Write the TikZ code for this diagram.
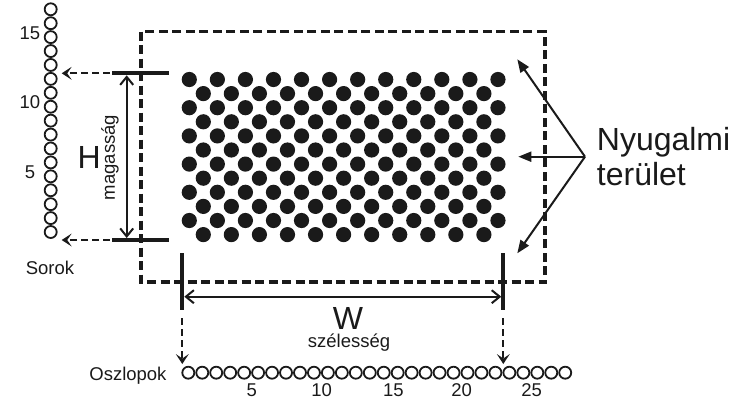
\documentclass[tikz,border=0pt]{standalone}
\usepackage{fontspec}
\setmainfont{Liberation Sans}
\usetikzlibrary{arrows.meta}
\definecolor{ink}{HTML}{1A1A1A}
\begin{document}
\begin{tikzpicture}[x=1pt,y=-1pt,
  ring/.style={circle,draw=ink,line width=1.8pt,minimum size=12pt,inner sep=0pt},
  dot/.style={circle,fill=ink,minimum size=15.2pt,inner sep=0pt},
  tickline/.style={draw=ink,line width=4pt},
  boxline/.style={draw=ink,line width=3.4pt,dash pattern=on 9pt off 4.5pt},
  dasharrow/.style={draw=ink,-{Stealth[length=10pt,width=13pt,inset=4.5pt,line width=0pt]},line width=2.2pt,dash pattern=on 7pt off 4pt},
  dimarrow/.style={draw=ink,{Straight Barb[length=8pt,width=13pt,line width=2pt]}-{Straight Barb[length=8pt,width=13pt,line width=2pt]},line width=2pt},
  callout/.style={draw=ink,-{Triangle[length=13pt,width=10pt]},line width=2pt},
  lbl/.style={text=ink,font=\fontsize{18.5}{20}\selectfont,inner sep=0pt},
  big/.style={text=ink,font=\fontsize{32}{35}\selectfont,inner sep=0pt}]
\useasboundingbox (0,0) rectangle (750,400);

% rows column
\foreach \i in {1,...,17}
  \node[ring] (r\i) at (50.7,{232-(\i-1)*13.92}) {};
\node[lbl] (n15) at (30,33) {15};
\node[lbl] (n10) at (30,102) {10};
\node[lbl] (n5) at (30,172) {5};
\node[lbl,anchor=base] (sorok) at (50,274) {Sorok};

% columns row
\foreach \i in {1,...,28}
  \node[ring] (c\i) at ({188.3+(\i-1)*13.96},372.7) {};
\node[lbl] (m5) at (251.7,390) {5};
\node[lbl] (m10) at (321.7,390) {10};
\node[lbl] (m15) at (393.3,390) {15};
\node[lbl] (m20) at (461.7,390) {20};
\node[lbl] (m25) at (531.7,390) {25};
\node[lbl,anchor=base east] (oszl) at (166.7,380) {Oszlopok};

% dashed rest-area box
\coordinate (boxNW) at (141,31.5);
\coordinate (boxSE) at (545,282);
\draw[boxline] (boxNW) rectangle (boxSE);

% dot pattern
\foreach \k in {0,2,4,6,8,10}
  \foreach \j in {0,...,11}
    \node[dot] (d\k-\j) at ({189.3+28.06*\j},{79.5+14.1*\k}) {};
\foreach \k in {1,3,5,7,9,11}
  \foreach \j in {0,...,10}
    \node[dot] (d\k-\j) at ({203.3+28.06*\j},{79.5+14.1*\k}) {};

% height ticks
\coordinate (htL) at (112.3,73.3);
\coordinate (htR) at (169.3,73.3);
\coordinate (hbL) at (112.3,240);
\coordinate (hbR) at (169.3,240);
\draw[tickline] (htL) -- (htR);
\draw[tickline] (hbL) -- (hbR);
\coordinate (hT) at (126.7,75.3);
\coordinate (hB) at (126.7,238);
\draw[dimarrow] (hT) -- (hB);
\coordinate (htS) at (110,73.3);
\coordinate (hbS) at (110,240);
\coordinate (htTip) at (61.7,73.3);
\coordinate (hbTip) at (61.7,240);
\draw[dasharrow] (htS) -- (htTip);
\draw[dasharrow] (hbS) -- (hbTip);
\node[big] (H) at (89.3,157) {H};
\node[lbl,rotate=90] (mag) at (110,157.5) {magasság};

% width ticks
\coordinate (wlT) at (182.3,253);
\coordinate (wlB) at (182.3,310);
\coordinate (wrT) at (503.3,253);
\coordinate (wrB) at (503.3,310);
\draw[tickline] (wlT) -- (wlB);
\draw[tickline] (wrT) -- (wrB);
\coordinate (wL) at (184.3,296.7);
\coordinate (wR) at (501.3,296.7);
\draw[dimarrow] (wL) -- (wR);
\coordinate (wlS) at (182.3,318);
\coordinate (wlTip) at (182.3,364);
\coordinate (wrS) at (503.3,318);
\coordinate (wrTip) at (503.3,364);
\draw[dasharrow] (wlS) -- (wlTip);
\draw[dasharrow] (wrS) -- (wrTip);
\node[big] (W) at (348,318.3) {W};
\node[lbl] (szel) at (349,343) {szélesség};

% callout
\coordinate (src) at (585,156.7);
\coordinate (t1) at (517.3,59.3);
\coordinate (t2) at (518.3,156.7);
\coordinate (t3) at (517.3,253.3);
\draw[callout] (src) -- (t1);
\draw[callout] (src) -- (t2);
\draw[callout] (src) -- (t3);
\node[big,anchor=base west] (ny) at (596.7,150) {Nyugalmi};
\node[big,anchor=base west] (ter) at (596.7,185) {terület};
\end{tikzpicture}
\end{document}
